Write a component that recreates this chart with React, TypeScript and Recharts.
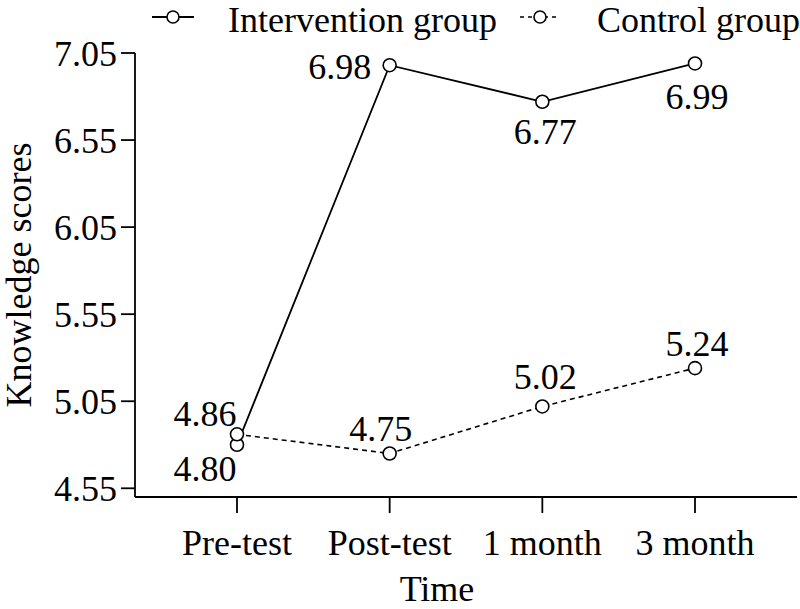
import React from 'react';
import { LineChart, Line, XAxis, YAxis, Legend, LabelList, Label } from 'recharts';

const categories = ['Pre-test', 'Post-test', '1 month', '3 month'];
const interventionScores = [4.80, 6.98, 6.77, 6.99];
const controlScores = [4.86, 4.75, 5.02, 5.24];
const interventionLabels = ['4.80', '6.98', '6.77', '6.99'];
const controlLabels = ['4.86', '4.75', '5.02', '5.24'];
const yTicks = [4.55, 5.05, 5.55, 6.05, 6.55, 7.05];

const data = categories.map((c, i) => ({
  name: c,
  intervention: interventionScores[i],
  control: controlScores[i],
}));

const FONT = '"Liberation Serif", "Times New Roman", serif';
const FS = 36;

// label offsets (style only)
const intOffsets = [[-32, 24], [-50, 2], [3, 30], [2, 34]];
const ctlOffsets = [[-32, -20], [-9, -24], [3, -29], [2, -24]];

const makeLabel = (labels: string[], offsets: number[][]) => (props: any) => {
  const { x, y, index } = props;
  const [dx, dy] = offsets[index];
  return (
    <text x={x + dx} y={y + dy} textAnchor="middle" dominantBaseline="central" fontFamily={FONT} fontSize={FS} fill="#000">
      {labels[index]}
    </text>
  );
};

const LegendContent = () => (
  <svg width={650} height={42} style={{ display: 'block', overflow: 'visible' }}>
    <g>
      <line x1={2} y1={17} x2={44} y2={17} stroke="#000" strokeWidth={1.8} />
      <circle cx={23} cy={17} r={6} fill="#fff" stroke="#000" strokeWidth={1.6} />
      <text x={78} y={20} dominantBaseline="central" fontFamily={FONT} fontSize={FS} fill="#000">Intervention group</text>
    </g>
    <g>
      <line x1={370} y1={17} x2={410} y2={17} stroke="#000" strokeWidth={1.6} strokeDasharray="4 4" />
      <circle cx={390} cy={17} r={6} fill="#fff" stroke="#000" strokeWidth={1.6} />
      <text x={447} y={20} dominantBaseline="central" fontFamily={FONT} fontSize={FS} fill="#000">Control group</text>
    </g>
  </svg>
);

export default function App() {
  return (
    <div style={{ position: 'absolute', left: 0, top: 0, width: 800, height: 609, background: '#fff' }}>
      <LineChart width={800} height={609} data={data} margin={{ top: 11, right: 3, left: 0, bottom: 0 }} style={{ overflow: 'visible' }}>
        <Legend verticalAlign="top" content={<LegendContent />} wrapperStyle={{ top: 0, left: 150, width: 650, height: 42 }} />
        <XAxis
          dataKey="name"
          padding={{ left: 102, right: 102 }}
          height={112}
          tickSize={16}
          tickMargin={16}
          axisLine={{ stroke: '#000', strokeWidth: 1.8 }}
          tickLine={{ stroke: '#000', strokeWidth: 1.8 }}
          tick={{ fill: '#000', fontFamily: FONT, fontSize: FS }}
        >
          <Label value="Time" position="insideBottom" offset={8} dx={-29} fill="#000" fontFamily={FONT} fontSize={FS} />
        </XAxis>
        <YAxis
          type="number"
          domain={[4.5, 7.05]}
          ticks={yTicks}
          allowDataOverflow
          width={135}
          tickSize={14}
          tickMargin={4}
          tickFormatter={(v: number) => v.toFixed(2)}
          axisLine={{ stroke: '#000', strokeWidth: 1.8 }}
          tickLine={{ stroke: '#000', strokeWidth: 1.8 }}
          tick={{ fill: '#000', fontFamily: FONT, fontSize: FS }}
        >
          <Label value="Knowledge scores" angle={-90} position="insideLeft" offset={18} fill="#000" fontFamily={FONT} fontSize={FS} style={{ textAnchor: 'middle' }} />
        </YAxis>
        <Line
          type="linear"
          dataKey="intervention"
          stroke="#000"
          strokeWidth={1.8}
          dot={{ r: 6.5, fill: '#fff', stroke: '#000', strokeWidth: 1.6 }}
          isAnimationActive={false}
        >
          <LabelList dataKey="intervention" content={makeLabel(interventionLabels, intOffsets)} />
        </Line>
        <Line
          type="linear"
          dataKey="control"
          stroke="#000"
          strokeWidth={1.6}
          strokeDasharray="5 4"
          dot={{ r: 6.5, fill: '#fff', stroke: '#000', strokeWidth: 1.6, strokeDasharray: '' }}
          isAnimationActive={false}
        >
          <LabelList dataKey="control" content={makeLabel(controlLabels, ctlOffsets)} />
        </Line>
      </LineChart>
    </div>
  );
}
